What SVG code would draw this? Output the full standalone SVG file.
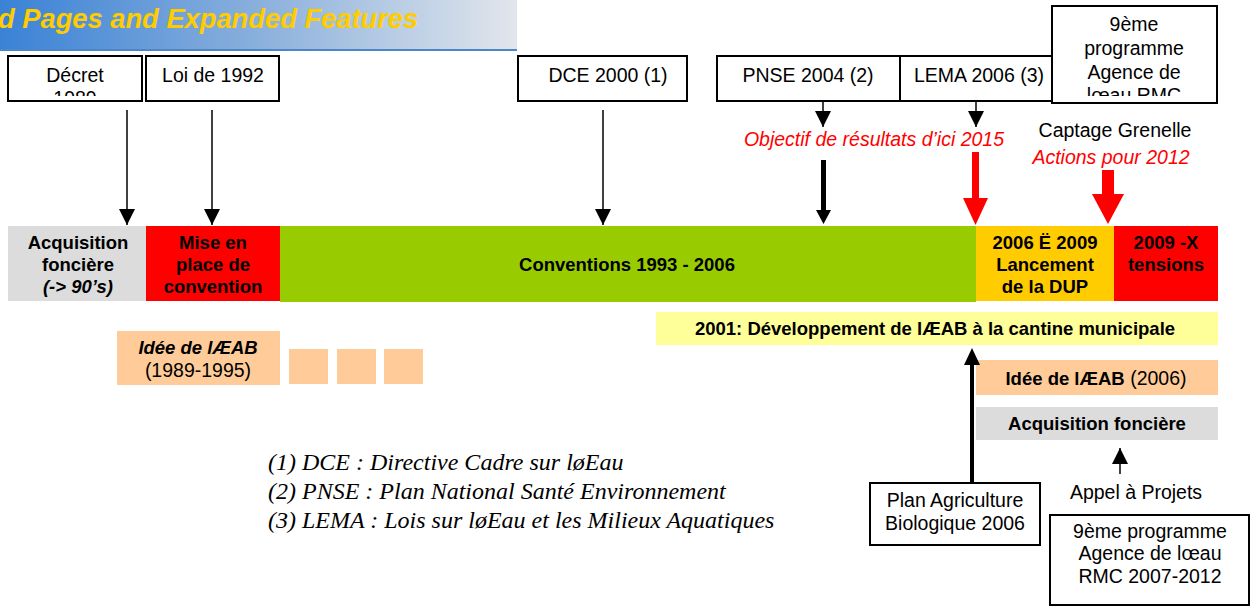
<svg xmlns="http://www.w3.org/2000/svg" width="1258" height="608" viewBox="0 0 1258 608">
<defs>
<linearGradient id="bannerGrad" x1="0" y1="0" x2="1" y2="0">
<stop offset="0" stop-color="#3a82d6"/>
<stop offset="0.5" stop-color="#8ab0dc"/>
<stop offset="1" stop-color="#e2e6ec"/>
</linearGradient>
<marker id="ah" viewBox="0 0 10 10" refX="10" refY="5" markerWidth="16" markerHeight="16" markerUnits="userSpaceOnUse" orient="auto">
<path d="M0,0 L10,5 L0,10 Z" fill="#000"/>
</marker>
<clipPath id="clipDecret"><rect x="8" y="56" width="134" height="40"/></clipPath>
<clipPath id="clip9top"><rect x="1052" y="6" width="165" height="90"/></clipPath>
</defs>
<style>
.box{fill:#fff;stroke:#000;stroke-width:2}
.t{font-family:"Liberation Sans",Arial,sans-serif;font-size:19.5px;fill:#000;text-anchor:middle}
.b{font-family:"Liberation Sans",Arial,sans-serif;font-size:18.5px;font-weight:bold;fill:#000;text-anchor:middle}
.red{fill:#ff0000;font-style:italic}
.note{font-family:"Liberation Serif","Times New Roman",serif;font-style:italic;font-size:24px;fill:#000}
.thin{stroke:#000;stroke-width:1.5;fill:none}
</style>

<g id="banner">
<rect x="0" y="0" width="517" height="50" fill="url(#bannerGrad)"/>
<rect x="0" y="49" width="517" height="2" fill="#4a86c8"/>
<text x="-2" y="28" font-family="Liberation Sans,Arial,sans-serif" font-size="27.3" font-weight="bold" font-style="italic" fill="#ffcc00">d Pages and Expanded Features</text>
</g>

<g id="decret">
<rect class="box" x="8" y="56" width="134" height="45"/>
<g clip-path="url(#clipDecret)">
<text class="t" x="75" y="82">Décret</text>
<text class="t" x="75" y="105">1989</text>
</g>
</g>
<g id="loi1992">
<rect class="box" x="146" y="56" width="133" height="45"/>
<text class="t" x="213" y="82">Loi de 1992</text>
</g>
<g id="dce2000">
<rect class="box" x="518" y="56" width="169" height="45"/>
<text class="t" x="608" y="82">DCE 2000 (1)</text>
</g>
<g id="pnse2004">
<rect class="box" x="717" y="56" width="183" height="45"/>
<text class="t" x="808" y="82">PNSE 2004 (2)</text>
</g>
<g id="lema2006">
<rect class="box" x="900" y="56" width="152" height="45"/>
<text class="t" x="979" y="82">LEMA 2006 (3)</text>
</g>
<g id="prog9top">
<rect class="box" x="1052" y="6" width="165" height="97"/>
<g clip-path="url(#clip9top)">
<text class="t" x="1134" y="31">9ème</text>
<text class="t" x="1134" y="55">programme</text>
<text class="t" x="1134" y="79">Agence de</text>
<text class="t" x="1134" y="102">lœau RMC</text>
</g>
</g>

<g id="labels-top">
<text class="t red" x="874" y="146">Objectif de résultats d’ici 2015</text>
<text class="t" x="1115" y="137">Captage Grenelle</text>
<text class="t red" x="1111" y="164">Actions pour 2012</text>
</g>

<g id="timeline">
<g id="seg-acq">
<rect x="8" y="226" width="138" height="75" fill="#dcdcdc"/>
<text class="b" x="78" y="249">Acquisition</text>
<text class="b" x="78" y="271">foncière</text>
<text class="b" x="78" y="293" font-style="italic">(-&gt; 90’s)</text>
</g>
<g id="seg-mise">
<rect x="146" y="226" width="134" height="75" fill="#ff0000"/>
<text class="b" x="213" y="249">Mise en</text>
<text class="b" x="213" y="271">place de</text>
<text class="b" x="213" y="293">convention</text>
</g>
<g id="seg-conv">
<rect x="280" y="226" width="696" height="76" fill="#99cc00"/>
<text class="b" x="627" y="271">Conventions 1993 - 2006</text>
</g>
<g id="seg-dup">
<rect x="976" y="226" width="138" height="75" fill="#ffcc00"/>
<text class="b" x="1045" y="249">2006 Ë 2009</text>
<text class="b" x="1045" y="271">Lancement</text>
<text class="b" x="1045" y="293">de la DUP</text>
</g>
<g id="seg-ext">
<rect x="1114" y="226" width="104" height="75" fill="#ff0000"/>
<text class="b" x="1166" y="249">2009 -X</text>
<text class="b" x="1166" y="271">tensions</text>
</g>
</g>

<g id="cantine">
<rect x="656" y="312" width="562" height="33" fill="#ffff99"/>
<text class="b" x="935" y="335">2001: Développement de lÆAB à la cantine municipale</text>
</g>
<g id="idee1989">
<rect x="117" y="331" width="163" height="54" fill="#ffcc99"/>
<text class="b" x="198" y="354" font-style="italic">Idée de lÆAB</text>
<text class="t" x="198" y="377">(1989-1995)</text>
</g>
<g id="squares">
<rect x="289" y="349" width="39" height="35" fill="#ffcc99"/>
<rect x="337" y="349" width="39" height="35" fill="#ffcc99"/>
<rect x="384" y="349" width="39" height="35" fill="#ffcc99"/>
</g>
<g id="idee2006">
<rect x="976" y="360" width="242" height="35" fill="#ffcc99"/>
<text class="b" x="1096" y="385">Idée de lÆAB<tspan font-weight="normal" font-size="19.5"> (2006)</tspan></text>
</g>
<g id="acq2">
<rect x="976" y="407" width="242" height="33" fill="#dcdcdc"/>
<text class="b" x="1097" y="430">Acquisition foncière</text>
</g>
<g id="appel">
<text class="t" x="1136" y="499">Appel à Projets</text>
</g>
<g id="planAB">
<rect class="box" x="870" y="483" width="170" height="62"/>
<text class="t" x="955" y="507">Plan Agriculture</text>
<text class="t" x="955" y="530">Biologique 2006</text>
</g>
<g id="prog9bottom">
<rect class="box" x="1050" y="515" width="199" height="90"/>
<text class="t" x="1150" y="538">9ème programme</text>
<text class="t" x="1150" y="560">Agence de lœau</text>
<text class="t" x="1150" y="583">RMC 2007-2012</text>
</g>

<g id="notes">
<text class="note" x="268" y="470">(1) DCE : Directive Cadre sur løEau</text>
<text class="note" x="268" y="499">(2) PNSE : Plan National Santé Environnement</text>
<text class="note" x="268" y="528">(3) LEMA : Lois sur løEau et les Milieux Aquatiques</text>
</g>

<g id="connectors">
<line class="thin" x1="127" y1="110" x2="127" y2="225" marker-end="url(#ah)"/>
<line class="thin" x1="212" y1="110" x2="212" y2="225" marker-end="url(#ah)"/>
<line class="thin" x1="603" y1="110" x2="603" y2="225" marker-end="url(#ah)"/>
<line class="thin" x1="823" y1="101" x2="823" y2="127" marker-end="url(#ah)"/>
<line class="thin" x1="976" y1="101" x2="976" y2="127" marker-end="url(#ah)"/>
<path d="M821,160 H826 V210 H831 L823.5,224 L816,210 H821 Z" fill="#000"/>
<path d="M972,152 H979 V198 H988 L975.5,225 L963,198 H972 Z" fill="#ff0000"/>
<path d="M1102,170 H1114 V194 H1124 L1108,224 L1092,194 H1102 Z" fill="#ff0000"/>
<path d="M970,484 V365 H964 L972,348 L980,365 H974 V484 Z" fill="#000"/>
<line class="thin" x1="1120" y1="474" x2="1120" y2="448" marker-end="url(#ah)"/>
</g>
</svg>
